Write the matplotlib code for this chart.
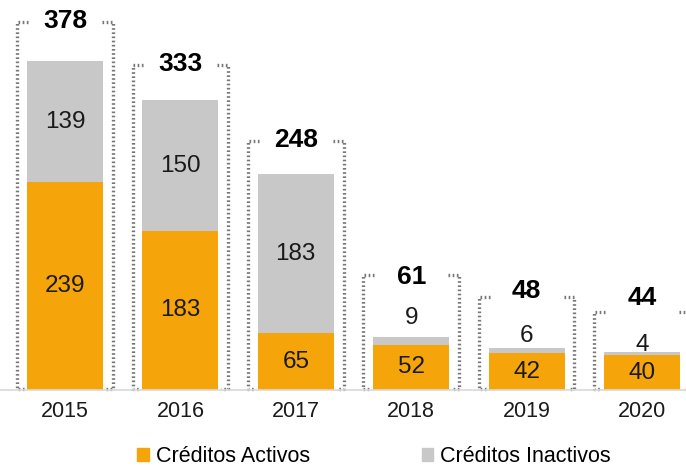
import matplotlib.pyplot as plt
from matplotlib.patches import Patch

years = ["2015", "2016", "2017", "2018", "2019", "2020"]
activos = [239, 183, 65, 52, 42, 40]
inactivos = [139, 150, 183, 9, 6, 4]
totales = [378, 333, 248, 61, 48, 44]

c_act = "#F5A50A"
c_inact = "#C8C8C8"
c_dot = "#777777"

plt.rcParams['font.family'] = ['Liberation Sans', 'DejaVu Sans']

fig = plt.figure(figsize=(6.86, 4.68), dpi=100)
ax = fig.add_axes([0, 78 / 468, 1, 390 / 468])

x = list(range(len(years)))
bw = 0.66
ax.bar(x, activos, bw, color=c_act, zorder=2)
ax.bar(x, inactivos, bw, bottom=activos, color=c_inact, zorder=2)

# small bars get their inactive label above the bar
small = [t < 100 for t in totales]
lab_in = [83, 62, 52]
lab_tot = [130, 114, 106]
top_pad = [45, 41, 38, 71, 59, 46]

hw = 0.415
stub = 0.095
for i in x:
    a, n, t = activos[i], inactivos[i], totales[i]
    ax.text(i, a / 2, str(a), ha="center", va="center", fontsize=17.5, color="#1a1a1a", zorder=3)
    ty = t + top_pad[i]
    if not small[i]:
        ax.text(i, a + n / 2, str(n), ha="center", va="center", fontsize=17.5, color="#1a1a1a", zorder=3)
        ax.text(i, ty + 1, str(t), ha="center", va="center", fontsize=19, fontweight="bold", zorder=3)
    else:
        k = i - 3
        ax.text(i, lab_in[k], str(n), ha="center", va="center", fontsize=17.5, color="#1a1a1a", zorder=3)
        ax.text(i, lab_tot[k], str(t), ha="center", va="center", fontsize=19, fontweight="bold", zorder=3)
    # dotted bracket
    for s in (-1, 1):
        xe = i + s * hw
        ax.plot([xe - s * stub, xe, xe, xe - s * 0.06], [ty, ty, 1, 1],
                color=c_dot, lw=2.4, ls=(0, (0.5, 0.75)), solid_capstyle="butt",
                dash_capstyle="butt", zorder=1, clip_on=False)

ax.set_xlim(-65 / 115.4, (686 - 65) / 115.4)
ax.set_ylim(0, 390 / 0.87)
for sp in ("top", "right", "left"):
    ax.spines[sp].set_visible(False)
ax.spines["bottom"].set_color("#D9D9D9")
ax.spines["bottom"].set_linewidth(1.2)
ax.set_yticks([])
ax.set_xticks(x)
ax.set_xticklabels(years, fontsize=15.5, color="#1a1a1a")
ax.tick_params(axis="x", length=0, pad=8)

handles = [Patch(color=c_act, label="Créditos Activos"),
           Patch(color=c_inact, label="Créditos Inactivos")]
fig.legend(handles=handles, loc="center", ncol=2, bbox_to_anchor=(0.545, 11 / 468),
           frameon=False, fontsize=15.5, handlelength=0.55, handleheight=0.55,
           handletextpad=0.3, columnspacing=5.2)

fig.savefig("out.png", dpi=100)
